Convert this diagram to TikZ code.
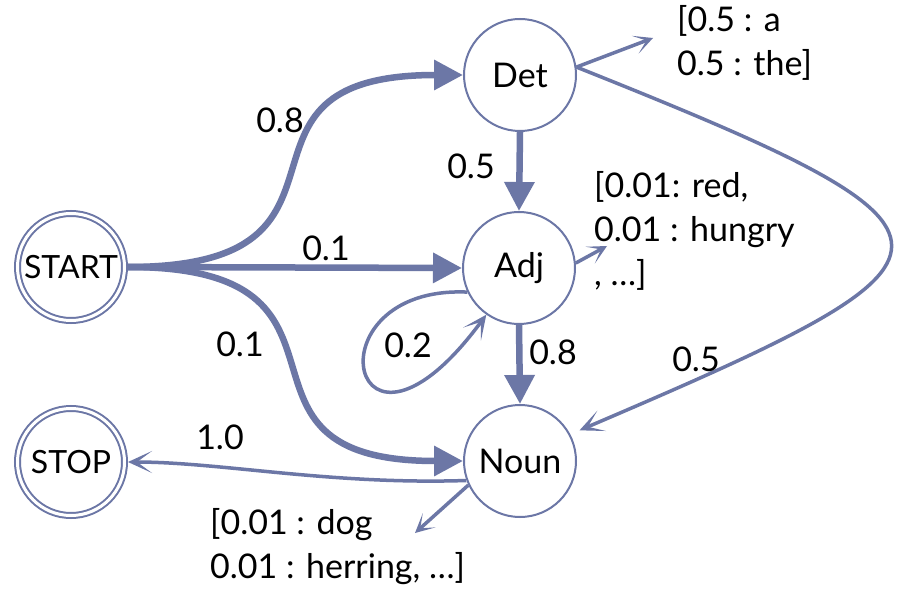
\documentclass[tikz,border=0pt]{standalone}
\usepackage{fontspec}
\setmainfont{Lato}
\usetikzlibrary{arrows.meta}
\definecolor{edge}{RGB}{108,119,166}
\begin{document}
\begin{tikzpicture}[x=1pt,y=-1pt,
  every node/.style={font=\fontsize{34}{44}\selectfont},
  state/.style={circle, draw=edge, line width=2pt, minimum size=112pt,
    inner sep=0pt, outer sep=1pt, fill=white},
  endstate/.style={circle, draw=edge, line width=2pt, double=white,
    double distance=3pt, minimum size=107pt, inner sep=0pt, outer sep=3.5pt},
  heavy/.style={draw=edge, line width=6.5pt,
    -{Triangle[length=29pt,width=29pt]}},
  light/.style={draw=edge, line width=3.5pt,
    -{Stealth[length=24pt,width=22pt,inset=15pt]}},
  emitarrow/.style={draw=edge, line width=3.5pt,
    -{Stealth[length=19pt,width=19pt,inset=12pt]}},
  lbl/.style={inner sep=0pt},
  emit/.style={align=left, anchor=base west, inner sep=0pt}]

\fill[white] (0,0) rectangle (901,601);
\useasboundingbox (0,0) rectangle (901,601);

% states
\node[endstate] (START) at (71,267) {\fontsize{32}{38}\selectfont START};
\node[endstate] (STOP)  at (71,462) {\fontsize{32}{38}\selectfont STOP};
\node[state] (Det)  at (520,75)  {Det};
\node[state] (Adj)  at (519,268) {Adj};
\node[state] (Noun) at (520,461) {Noun};

% transitions
\draw[heavy] (START.east) .. controls (390,267) and (200,75) .. (Det.west);
\draw[heavy] (START.east) -- (Adj.west);
\draw[heavy] (START.east) .. controls (390,267) and (200,461) .. (Noun.west);
\draw[heavy] (Det.south) -- (Adj.north);
\draw[heavy] (Adj.south) -- (Noun.north);
\draw[light] (Adj.205) .. controls (305,285) and (350,500) .. (Adj.235);
\draw[light, shorten >=10pt] (Det.8) .. controls (1000,236) and (990,255) .. (Noun.28);
\draw[light] (Noun.200) .. controls (330,485) and (220,462) .. (STOP.east);

% emissions (the text anchor is the baseline of the last line)
\coordinate (detout)  at (653,38);
\coordinate (adjout)  at (607,246);
\coordinate (nounout) at (415,533);
\draw[emitarrow] (Det.8) -- (detout);
\draw[emitarrow] (Adj.5) -- (adjout);
\draw[emitarrow] (Noun.205) -- (nounout);

\node[emit] (detemit)  at (677,76)  {[0.5 : a\\0.5 : the]};
\node[emit] (adjemit)  at (594,286) {[0.01: red,\\0.01 : hungry\\, \ldots]};
\node[emit] (nounemit) at (210,578) {[0.01 : dog\\0.01 : herring, \ldots]};

% probabilities
\node[lbl] (p08a) at (280,120) {0.8};
\node[lbl] (p05a) at (471,166) {0.5};
\node[lbl] (p01a) at (326,248) {0.1};
\node[lbl] (p01b) at (240,344) {0.1};
\node[lbl] (p02)  at (408,345) {0.2};
\node[lbl] (p08b) at (553,352) {0.8};
\node[lbl] (p05b) at (696,359) {0.5};
\node[lbl] (p10)  at (220,437) {1.0};
\end{tikzpicture}
\end{document}
